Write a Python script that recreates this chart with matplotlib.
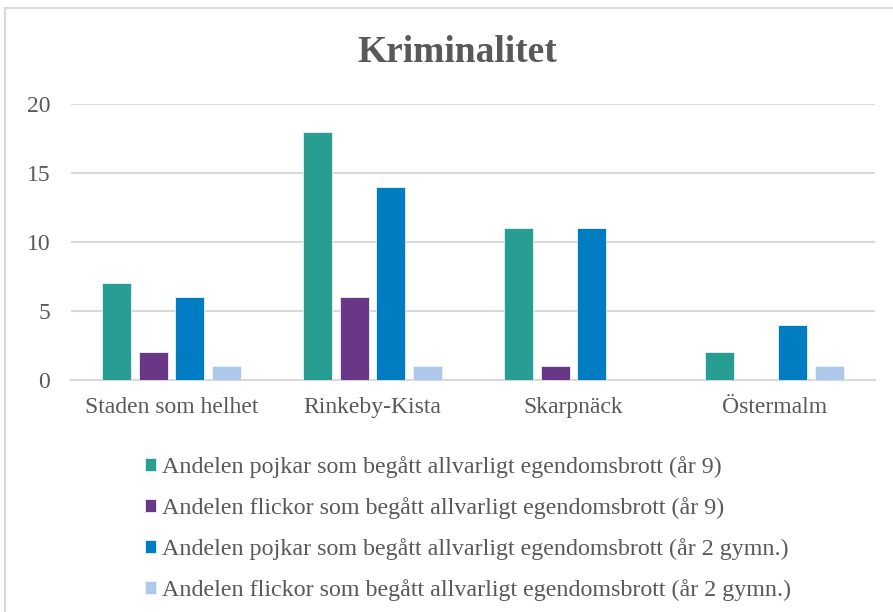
import numpy as np
import matplotlib
matplotlib.use("Agg")
from matplotlib import pyplot as plt
from matplotlib import patches

plt.rcParams['font.family'] = ['Liberation Serif', 'DejaVu Serif']

categories = ["Staden som helhet", "Rinkeby-Kista", "Skarpnäck", "Östermalm"]
series_names = [
    "Andelen pojkar som begått allvarligt egendomsbrott (år 9)",
    "Andelen flickor som begått allvarligt egendomsbrott (år 9)",
    "Andelen pojkar som begått allvarligt egendomsbrott (år 2 gymn.)",
    "Andelen flickor som begått allvarligt egendomsbrott (år 2 gymn.)",
]
pojkar_9 = [7, 18, 11, 2]
flickor_9 = [2, 6, 1, 0]
pojkar_2g = [6, 14, 11, 4]
flickor_2g = [1, 1, 0, 1]
yticks = [0, 5, 10, 15, 20]

colors = ["#289E92", "#6A3787", "#007CC2", "#AEC8EB"]
text_col = "#595959"
grid_col = "#D9D9D9"

fig = plt.figure(figsize=(8.93, 6.12), dpi=100)
ax = fig.add_axes([71/893, 1-380/612, (875-71)/893, (380-104)/612])

x = np.arange(len(categories))
w = 0.144
step = 0.182
values = [pojkar_9, flickor_9, pojkar_2g, flickor_2g]
for i, (vals, name, c) in enumerate(zip(values, series_names, colors)):
    ax.bar(x + (i - 1.5)*step, vals, width=w, color=c, label=name,
           edgecolor="#E8F4F8", linewidth=0.6, zorder=3)

ax.set_xlim(-0.5, len(categories) - 0.5)
ax.set_ylim(0, 20)
ax.set_yticks(yticks)
ax.set_xticks(x)
ax.set_xticklabels(categories)
ax.tick_params(axis='both', length=0, labelsize=17, colors=text_col)
ax.tick_params(axis='y', pad=15)
ax.tick_params(axis='x', pad=12)
ax.grid(axis='y', color=grid_col, linewidth=1.5, zorder=0)
for s in ['top', 'right', 'left']:
    ax.spines[s].set_visible(False)
ax.spines['bottom'].set_color(grid_col)
ax.spines['bottom'].set_linewidth(1.5)

fig.text(457/893, 1-52/612, "Kriminalitet", ha='center', va='center',
         fontsize=27, fontweight='bold', color=text_col)

leg = fig.legend(loc='upper left', bbox_to_anchor=(133/893, 1-444/612),
                 frameon=False, fontsize=17.3, labelspacing=0.8,
                 handlelength=0.45, handleheight=0.45, handletextpad=0.25,
                 borderpad=0)
for t in leg.get_texts():
    t.set_color(text_col)

frame = patches.Rectangle((5/893, -0.1), 1.2, 1-8/612+0.1, transform=fig.transFigure,
                          facecolor='none', edgecolor=grid_col, linewidth=1.5)
fig.add_artist(frame)

fig.savefig("out.png", dpi=100)
